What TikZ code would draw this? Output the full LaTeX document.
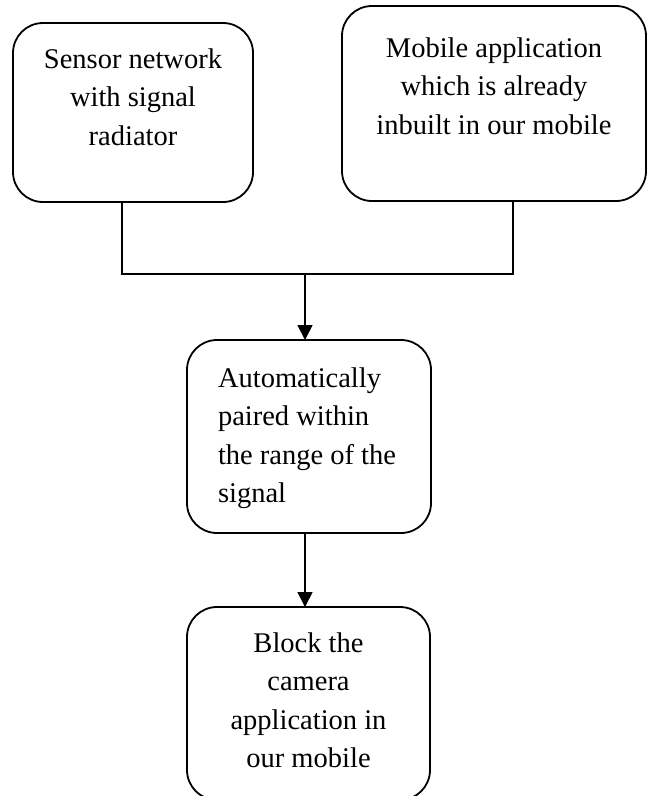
\documentclass[tikz,border=0pt]{standalone}
\usepackage{fontspec}
\setmainfont{Liberation Serif}
\usetikzlibrary{arrows.meta}
\tikzset{
  box/.style={draw, line width=1.8pt, rounded corners=30pt, inner sep=0pt, outer sep=0pt},
  conn/.style={line width=1.8pt},
  arr/.style={line width=1.8pt, -{Triangle[length=15pt,width=15pt]}}
}
\newcommand{\boxtext}[4]{\parbox[c][#2][t]{#1}{\fontsize{28.5}{38.5}\selectfont #3\rule{0pt}{#4}\ignorespaces}}
\begin{document}
\begin{tikzpicture}[x=1pt,y=-1pt]
\useasboundingbox (0,0) rectangle (647,796);
\node[box, anchor=north west] (b1) at (13,23)
  {\parbox[c][179pt][t]{240pt}{\fontsize{28.5}{38.5}\selectfont\centering\rule{0pt}{45pt}Sensor network\\with signal\\radiator\par}};
\node[box, anchor=north west] (b2) at (342,6)
  {\parbox[c][195pt][t]{304pt}{\fontsize{28.5}{38.5}\selectfont\centering\rule{0pt}{51pt}Mobile application\\which is already\\inbuilt in our mobile\par}};
\node[box, anchor=north west] (b3) at (187,340)
  {\parbox[c][193pt][t]{244pt}{\fontsize{28.5}{38.5}\selectfont\raggedright\leftskip=31pt\rule{0pt}{47pt}Automatically\\paired within\\the range of the\\signal\par}};
\node[box, anchor=north west] (b4) at (187,607)
  {\parbox[c][193pt][t]{243pt}{\fontsize{28.5}{38.5}\selectfont\centering\rule{0pt}{45pt}Block the\\camera\\application in\\our mobile\par}};
\coordinate (p1) at (122,274);
\coordinate (p2) at (513,274);
\coordinate (j) at (305,274);
\draw[conn] (b1.south -| p1) -- (p1) -- (p2) -- (b2.south -| p2);
\draw[arr] (j) -- (b3.north -| j);
\draw[arr] (b3.south -| j) -- (b4.north -| j);
\end{tikzpicture}
\end{document}
